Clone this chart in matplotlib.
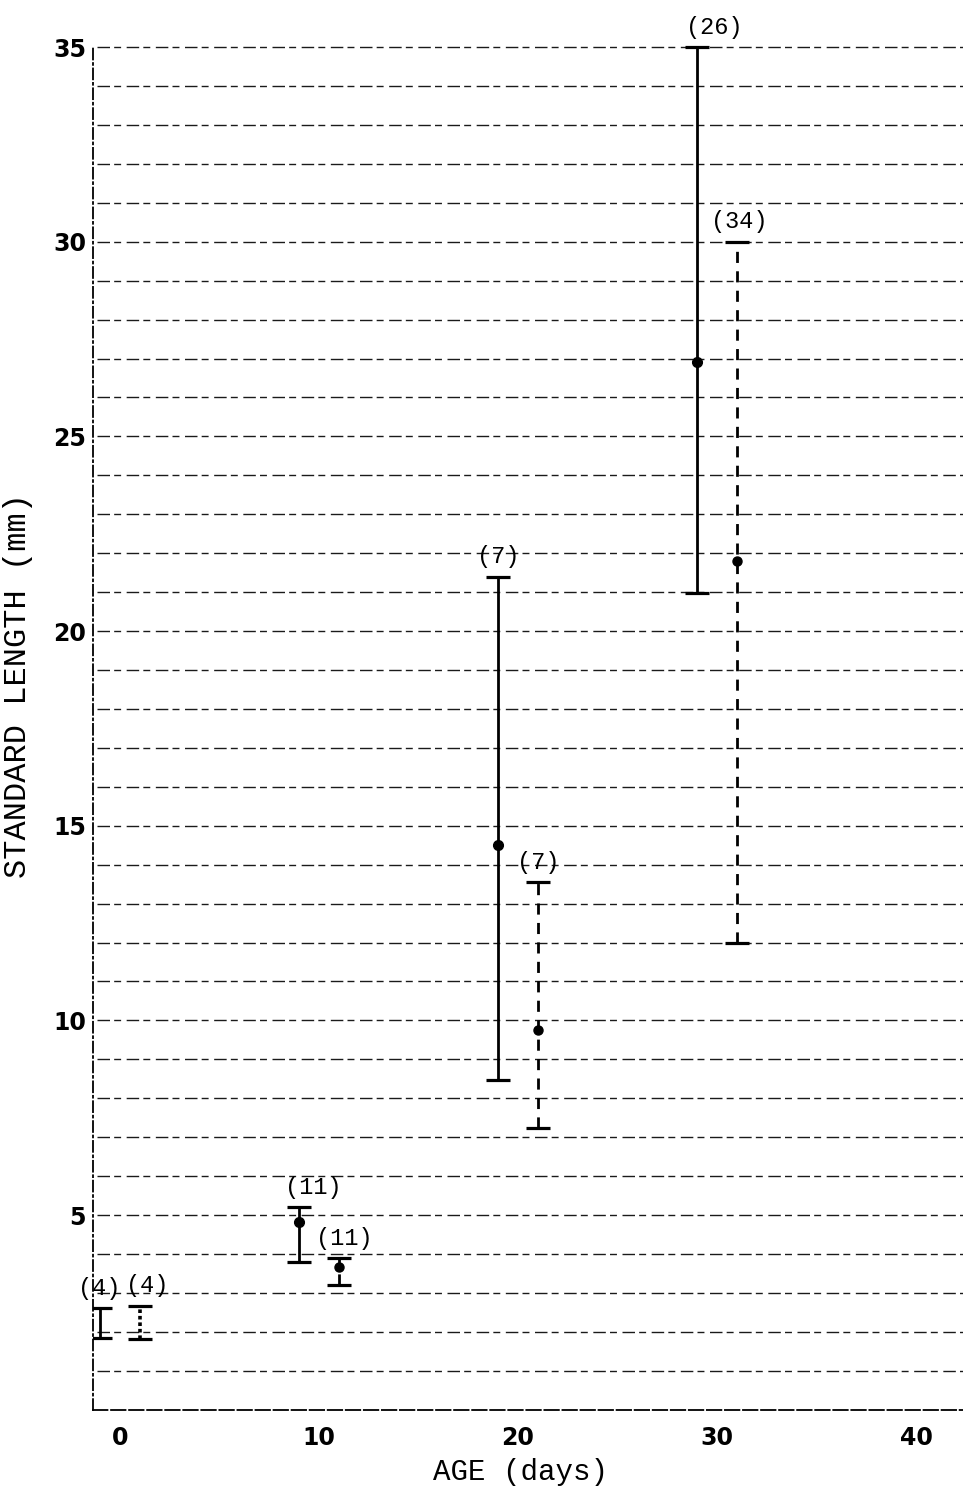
import numpy as np
import matplotlib
matplotlib.use("Agg")
import matplotlib.pyplot as plt

# age groups (days) and sample sizes
ages = [0, 10, 20, 30]
n_solid = [4, 11, 7, 26]
n_dashed = [4, 11, 7, 34]

# standard length (mm): mean, low, high for each group
mean_solid = [np.nan, 4.82, 14.5, 26.9]
low_solid = [1.84, 3.79, 8.47, 20.98]
high_solid = [2.61, 5.2, 21.4, 35.0]

mean_dashed = [np.nan, 3.66, 9.75, 21.8]
low_dashed = [1.81, 3.2, 7.24, 12.0]
high_dashed = [2.67, 3.9, 13.55, 30.0]

yticks = [5, 10, 15, 20, 25, 30, 35]
xticks = [0, 10, 20, 30, 40]

mono = "Liberation Mono"

fig = plt.figure(figsize=(9.63, 14.87), dpi=100)
W, H = 963, 1487
ax = fig.add_axes([93 / W, 77.3 / H, 1 - 93 / W, 1409.7 / H])
ax.set_xlim(-1.36, 42.36)
ax.set_ylim(0, 36.21)

# faint dashed grid, one line per mm
for y in range(1, 36):
    ax.axhline(y, xmin=0.005, xmax=1, color="#1a1a1a", lw=1.0,
               linestyle=(0, (9, 3, 5, 4)), zorder=1)

for s in ["top", "right"]:
    ax.spines[s].set_visible(False)
ax.spines["left"].set_bounds(0, 35)
ax.spines["left"].set_linestyle((0, (6, 2, 1, 2)))
ax.spines["left"].set_linewidth(1.3)
ax.spines["bottom"].set_linestyle((0, (8, 2)))
ax.spines["bottom"].set_linewidth(1.3)

# solid series (day - 1) and dashed series (day + 1)
xs = [a - 1 for a in ages]
xd = [a + 1 for a in ages]

ax.vlines(xs, low_solid, high_solid, colors="black", lw=2.0, zorder=3)
ax.vlines(xd[1:], low_dashed[1:], high_dashed[1:], colors="black", lw=2.0,
          linestyles=[(0, (4, 3))], zorder=3)
ax.vlines(xd[:1], low_dashed[:1], high_dashed[:1], colors="black", lw=2.6,
          linestyles=[(0, (1, 0.8))], zorder=3)

for x_, lo, hi in [(xs, low_solid, high_solid), (xd, low_dashed, high_dashed)]:
    ax.plot(x_, lo, ls="none", marker="_", ms=17, mew=2.3, color="black", zorder=4)
    ax.plot(x_, hi, ls="none", marker="_", ms=17, mew=2.3, color="black", zorder=4)

ax.plot(xs, mean_solid, ls="none", marker="o", ms=7, color="black", zorder=5)
ax.plot(xd, mean_dashed, ls="none", marker="o", ms=6.5, color="black", zorder=5)

# small sideways nudges of the count labels (points), as in the original
nudge = [-1, 10, 0, 12, 5, 4, 0, 2]
for x_, hi, n, dx in zip(xs + xd, high_solid + high_dashed,
                         n_solid + n_dashed, nudge):
    ax.annotate(f"({n})", (x_, hi), xytext=(dx, 6), textcoords="offset points",
                ha="center", va="bottom", fontsize=17, family=mono)

ax.set_yticks(yticks)
ax.set_yticklabels([str(v) for v in yticks], fontsize=17, family="DejaVu Sans",
                   fontweight="bold")
ax.set_xticks(xticks)
ax.set_xticklabels([str(v) for v in xticks], fontsize=17, family="DejaVu Sans",
                   fontweight="bold")
ax.tick_params(axis="y", length=0, pad=5)
ax.tick_params(axis="x", length=0, pad=12)

ax.set_ylabel("STANDARD LENGTH (mm)", fontsize=23, family=mono, va="center")
ax.yaxis.set_label_coords((18 - 93) / 870, 0.514)
ax.set_xlabel("AGE (days)", fontsize=21, family=mono, va="center")
ax.xaxis.set_label_coords((520 - 93) / 870, -(1472 - 1409.7) / 1409.7)

fig.savefig("out.png", dpi=100)
